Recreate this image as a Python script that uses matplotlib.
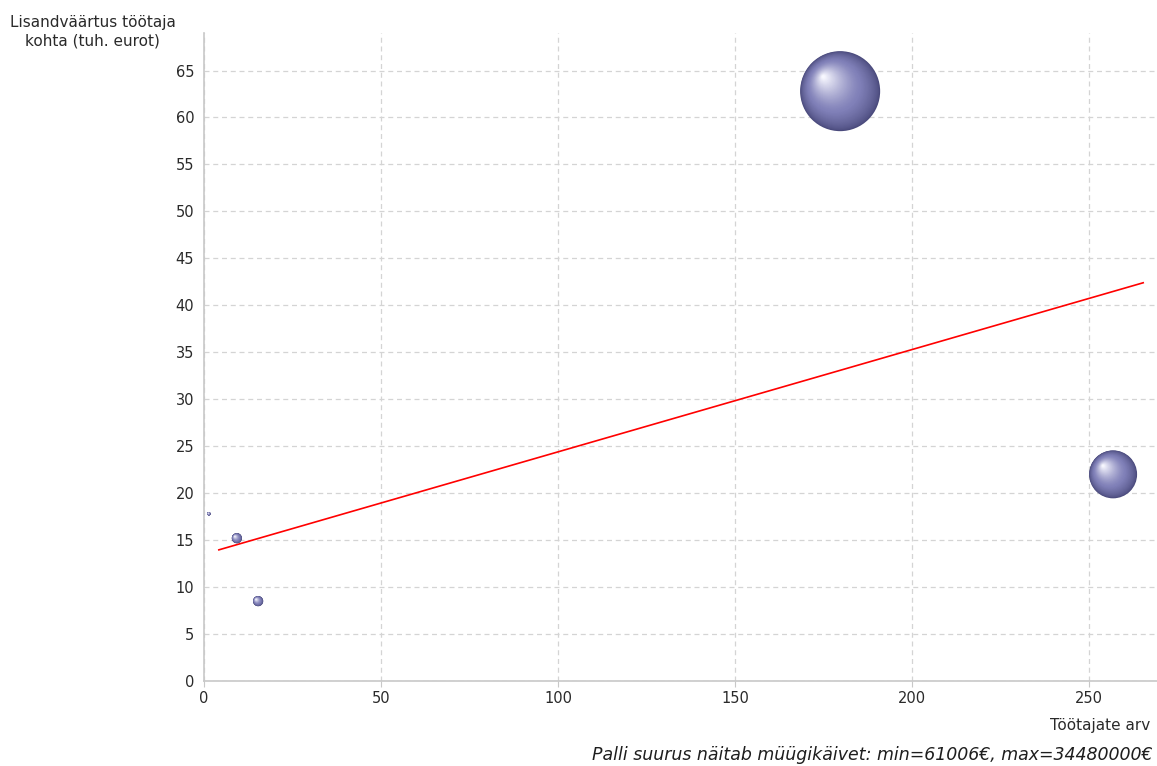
import numpy as np
import matplotlib
matplotlib.use("Agg")
from matplotlib import pyplot as plt
from matplotlib import transforms
from matplotlib.colors import to_rgb

# data
employees = [1.4, 9.3, 15.3, 179.7, 256.8]
value_per_employee = [17.8, 15.2, 8.5, 62.8, 22.0]
sales = [61006, 560000, 560000, 34480000, 12400000]

trend_x = [4.2, 265.3]
trend_y = [13.96, 42.4]

x_ticks = [0, 50, 100, 150, 200, 250]
y_ticks = list(range(0, 70, 5))

fig = plt.figure(figsize=(11.57, 7.66), dpi=100)
ax = fig.add_axes([0.1763, 0.111, 0.8237, 0.846])

ax.set_xlim(0, 269.2)
ax.set_ylim(0, 69.0)
ax.set_xticks(x_ticks)
ax.set_yticks(y_ticks)
ax.grid(True, color="#d4d4d4", linestyle=(0, (4, 3)), linewidth=0.9)
ax.set_axisbelow(True)
for side in ["top", "right"]:
    ax.spines[side].set_visible(False)
for side in ["left", "bottom"]:
    ax.spines[side].set_color("#c8c8c8")
    ax.spines[side].set_linewidth(1.2)
ax.tick_params(colors="#c8c8c8", labelcolor="#2a2a2a", labelsize=10.5, length=4)
ax.tick_params(axis="y", length=0, pad=7)

ax.plot(trend_x, trend_y, color="red", linewidth=1.2, zorder=2)

# shaded spheres: stacked circles moving toward an upper-left highlight
dark = np.array(to_rgb("#4a4a7c"))
mid = np.array(to_rgb("#8080b8"))
light = np.array([0.97, 0.97, 1.0])
max_s = 3318.0
n_layers = 50
for x, y, v in zip(employees, value_per_employee, sales):
    s0 = max_s * v / max(sales)
    r_pt = np.sqrt(s0) / 2
    for k in range(n_layers):
        t = k / (n_layers - 1)
        frac = 1 - 0.96 * t
        if t < 0.35:
            col = dark + (mid - dark) * (t / 0.35) ** 0.7
        else:
            col = mid + (light - mid) * ((t - 0.35) / 0.65) ** 1.3
        off = transforms.offset_copy(ax.transData, fig=fig,
                                     x=-0.42 * r_pt * t, y=0.36 * r_pt * t,
                                     units="points")
        ax.scatter([x], [y], s=s0 * frac ** 2, color=col, edgecolors="none",
                   transform=off, zorder=3)

fig.text(0.080, 0.980, "Lisandväärtus töötaja\nkohta (tuh. eurot)",
         ha="center", va="top", fontsize=11, color="#2a2a2a", linespacing=1.25)
fig.text(0.994, 0.053, "Töötajate arv", ha="right", va="center",
         fontsize=11, color="#2a2a2a")
fig.text(0.996, 0.014, "Palli suurus näitab müügikäivet: min=61006€, max=34480000€",
         ha="right", va="center", fontsize=12.5, style="italic", color="#1e1e1e")

fig.savefig("out.png", dpi=100)
